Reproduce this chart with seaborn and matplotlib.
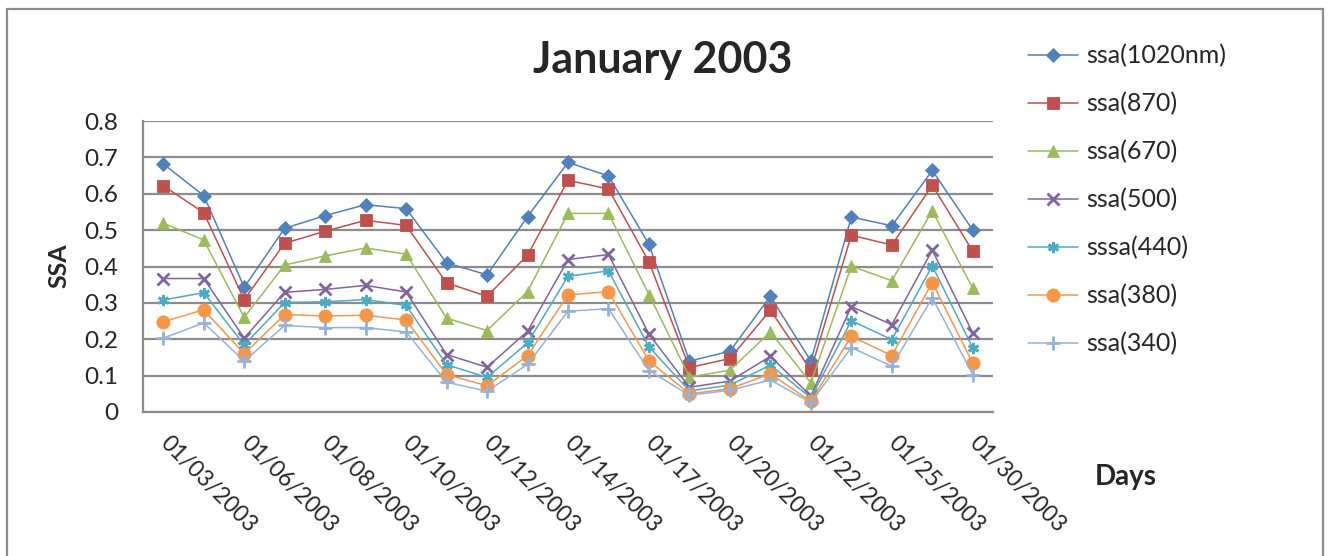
import matplotlib
matplotlib.use("Agg")
import matplotlib.pyplot as plt
from matplotlib.patches import Rectangle
import numpy as np
import pandas as pd
import seaborn as sns

# Observation days (every other one is labelled on the axis)
dates = ["01/03/2003", "01/04/2003", "01/06/2003", "01/07/2003", "01/08/2003",
         "01/09/2003", "01/10/2003", "01/11/2003", "01/12/2003", "01/13/2003",
         "01/14/2003", "01/16/2003", "01/17/2003", "01/19/2003", "01/20/2003",
         "01/21/2003", "01/22/2003", "01/24/2003", "01/25/2003", "01/27/2003",
         "01/30/2003"]

ssa_1020 = [0.682, 0.595, 0.343, 0.505, 0.540, 0.570, 0.559, 0.410, 0.377, 0.537, 0.686,
            0.649, 0.461, 0.140, 0.167, 0.318, 0.140, 0.536, 0.512, 0.664, 0.500]
ssa_870 = [0.622, 0.548, 0.309, 0.464, 0.497, 0.527, 0.513, 0.355, 0.318, 0.431, 0.637,
           0.613, 0.413, 0.122, 0.147, 0.280, 0.115, 0.486, 0.459, 0.623, 0.442]
ssa_670 = [0.519, 0.473, 0.260, 0.404, 0.429, 0.451, 0.434, 0.258, 0.224, 0.331, 0.546,
           0.546, 0.323, 0.096, 0.115, 0.220, 0.080, 0.401, 0.361, 0.553, 0.340]
ssa_500 = [0.367, 0.367, 0.203, 0.329, 0.337, 0.348, 0.330, 0.158, 0.123, 0.222, 0.419,
           0.433, 0.214, 0.068, 0.085, 0.153, 0.044, 0.290, 0.240, 0.445, 0.217]
ssa_440 = [0.308, 0.328, 0.184, 0.301, 0.303, 0.309, 0.293, 0.130, 0.095, 0.190, 0.373,
           0.388, 0.179, 0.058, 0.074, 0.129, 0.039, 0.251, 0.199, 0.402, 0.176]
ssa_380 = [0.248, 0.281, 0.160, 0.268, 0.264, 0.266, 0.253, 0.103, 0.072, 0.155, 0.322,
           0.331, 0.141, 0.050, 0.064, 0.105, 0.029, 0.208, 0.155, 0.356, 0.134]
ssa_340 = [0.203, 0.245, 0.140, 0.238, 0.232, 0.232, 0.220, 0.082, 0.057, 0.131, 0.277,
           0.284, 0.114, 0.046, 0.060, 0.088, 0.026, 0.177, 0.126, 0.314, 0.103]

series_names = ["ssa(1020nm)", "ssa(870)", "ssa(670)", "ssa(500)",
                "sssa(440)", "ssa(380)", "ssa(340)"]
series_values = [ssa_1020, ssa_870, ssa_670, ssa_500, ssa_440, ssa_380, ssa_340]

colors = ["#4F81BD", "#C0504D", "#9BBB59", "#8064A2", "#4BACC6", "#F79646", "#95B3D7"]
markers = ["D", "s", "^", "x", (6, 2, 0), "o", "+"]
msizes = [7, 8.5, 8.5, 8, 8, 9.5, 10]

y_ticks = [0, 0.1, 0.2, 0.3, 0.4, 0.5, 0.6, 0.7, 0.8]
y_ticklabels = ["0", "0.1", "0.2", "0.3", "0.4", "0.5", "0.6", "0.7", "0.8"]

frames = []
for name, vals in zip(series_names, series_values):
    frames.append(pd.DataFrame({"pos": np.arange(len(dates)), "date": dates,
                                "ssa": vals, "series": name}))
df = pd.concat(frames, ignore_index=True)

sns.set_theme(style="white")
plt.rcParams["font.family"] = ["Lato", "DejaVu Sans"]

fig = plt.figure(figsize=(13.32, 5.56), dpi=100)
ax = fig.add_axes([143 / 1332, 1 - 412 / 556, 850 / 1332, 291 / 556])

for i, name in enumerate(series_names):
    sub = df[df["series"] == name]
    mk = markers[i]
    open_marker = mk in ("x", "+") or isinstance(mk, tuple)
    sns.lineplot(data=sub, x="pos", y="ssa", ax=ax, color=colors[i], lw=1.1,
                 marker=mk, markersize=msizes[i],
                 markeredgewidth=2.0 if open_marker else 0.6,
                 markeredgecolor=colors[i], label=name, legend=False)

ax.set_xlim(-0.5, len(dates) - 0.5)
ax.set_ylim(0, 0.8)
ax.set_yticks(y_ticks)
ax.set_yticklabels(y_ticklabels)
ax.yaxis.grid(True, color="#8C8C8C", lw=1.6)
ax.set_axisbelow(True)

tick_pos = np.arange(0, len(dates), 2)
ax.set_xticks(tick_pos)
ax.set_xticklabels([dates[k] for k in tick_pos], rotation=-45, ha="left",
                   va="center", rotation_mode="anchor")
ax.tick_params(axis="x", length=0, pad=20, labelsize=16.5)
ax.tick_params(axis="y", length=0, pad=18, labelsize=17.5)
ax.set_xlabel("")
ax.set_ylabel("")

for side in ("top", "right"):
    ax.spines[side].set_visible(False)
ax.spines["left"].set_color("#8C8C8C")
ax.spines["left"].set_linewidth(1.6)
ax.spines["bottom"].set_color("#8C8C8C")
ax.spines["bottom"].set_linewidth(1.6)

fig.text(663 / 1332, 1 - 60 / 556, "January 2003", ha="center", va="center",
         fontsize=31, fontweight="bold")
fig.text(59 / 1332, 1 - 266 / 556, "SSA", ha="center", va="center",
         rotation=90, fontsize=18, fontweight="bold")
fig.text(1126 / 1332, 1 - 477 / 556, "Days", ha="center", va="center",
         fontsize=20, fontweight="bold")

handles, labels = ax.get_legend_handles_labels()
fig.legend(handles, labels, loc="upper left",
           bbox_to_anchor=(1028 / 1332, 1 - 44 / 556), frameon=False,
           fontsize=18, handlelength=2.0, handletextpad=0.33,
           labelspacing=0.99, borderpad=0, borderaxespad=0)

frame = Rectangle((7 / 1332, -0.05), 1316 / 1332, 1.05 - 9 / 556,
                  transform=fig.transFigure, fill=False, edgecolor="#8C8C8C",
                  lw=1.6, clip_on=False)
fig.patches.append(frame)

fig.savefig("out.png", dpi=100)
